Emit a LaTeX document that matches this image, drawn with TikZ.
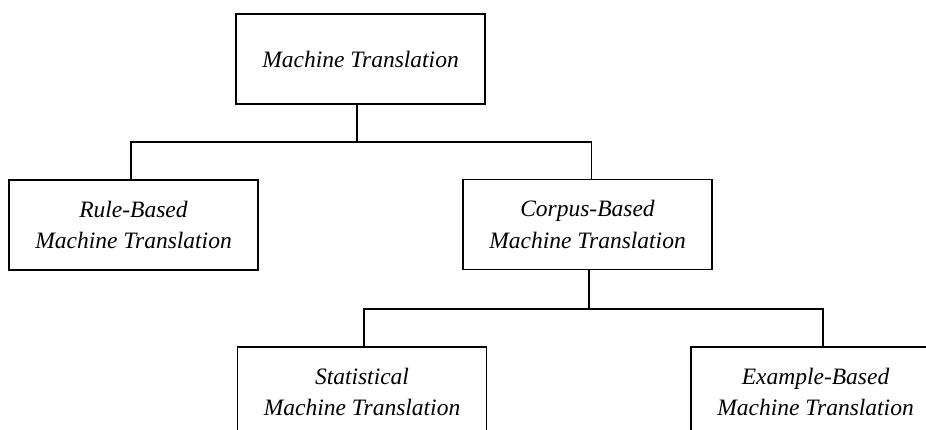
\documentclass[tikz,border=0pt]{standalone}
\usepackage{fontspec}
\setmainfont{Liberation Serif}
\begin{document}
\begin{tikzpicture}[x=1pt,y=-1pt,
  mtbox/.style={draw, line width=1.5pt, minimum width=249pt, minimum height=90pt,
    inner sep=0pt, align=center, font=\fontsize{23.5}{31.5}\selectfont\itshape},
  link/.style={line width=1.5pt}]
  \useasboundingbox (0,0) rectangle (926,430);
  \clip (0,0) rectangle (926,430);

  % tree of machine translation approaches
  \node[mtbox] (mt) at (360.5,59) {Machine Translation};
  \node[mtbox] (rb) at (133.5,225) {Rule-Based\\Machine Translation};
  \node[mtbox] (cb) at (587.5,224.5) {Corpus-Based\\Machine Translation};
  \node[mtbox] (sm) at (362,392) {Statistical\\Machine Translation};
  \node[mtbox] (eb) at (815.5,392) {Example-Based\\Machine Translation};

  % first level branches
  \coordinate (bus1) at (0,142);
  \draw[link] ([xshift=-3.5pt]mt.south) -- ([xshift=-3.5pt]mt.south |- bus1);
  \draw[link] ([xshift=-2.5pt]rb.north) |- ([xshift=4pt]cb.north |- bus1) -- ([xshift=4pt]cb.north);

  % second level branches
  \coordinate (bus2) at (0,309);
  \draw[link] ([xshift=1.5pt]cb.south) -- ([xshift=1.5pt]cb.south |- bus2);
  \draw[link] ([xshift=2pt]sm.north) |- ([xshift=7.5pt]eb.north |- bus2) -- ([xshift=7.5pt]eb.north);
\end{tikzpicture}
\end{document}
